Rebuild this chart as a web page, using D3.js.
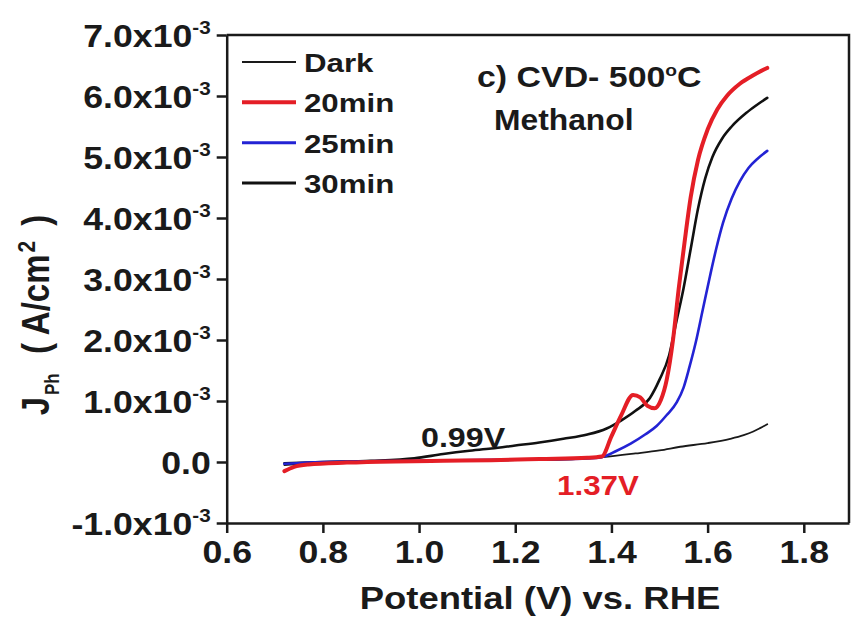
<!DOCTYPE html>
<html>
<head>
<meta charset="utf-8">
<script src="https://cdn.jsdelivr.net/npm/d3@7"></script>
<style>
  html, body { margin: 0; padding: 0; background: #fff; }
  svg { display: block; }
  text { font-family: "Liberation Sans", Arial, sans-serif; font-weight: bold; fill: #1a1a1a; }
</style>
</head>
<body>
<svg id="chart" width="852" height="618"></svg>
<script>
// ---- data (current density in units of 10^-3 A/cm^2) ----
const xTicks = [0.6, 0.8, 1.0, 1.2, 1.4, 1.6, 1.8];
const xTickLabels = ["0.6", "0.8", "1.0", "1.2", "1.4", "1.6", "1.8"];
const yTicks = [-1, 0, 1, 2, 3, 4, 5, 6, 7];
const yTickLabels = ["-1.0x10", "0.0", "1.0x10", "2.0x10", "3.0x10", "4.0x10", "5.0x10", "6.0x10", "7.0x10"];
const yTickExp = ["-3", "", "-3", "-3", "-3", "-3", "-3", "-3", "-3"];

const seriesNames = ["Dark", "20min", "25min", "30min"];

const darkV = [0.72, 0.76, 0.85, 1.0, 1.2, 1.3, 1.382, 1.45, 1.5, 1.543, 1.6, 1.647, 1.675, 1.695, 1.71, 1.724];
const darkJ = [-0.05, -0.03, -0.01, 0.01, 0.03, 0.04, 0.08, 0.14, 0.19, 0.25, 0.31, 0.38, 0.44, 0.50, 0.56, 0.62];

const min20V = [0.72, 0.74, 0.77, 0.85, 0.95, 1.05, 1.15, 1.25, 1.35, 1.38, 1.40, 1.42, 1.445, 1.46, 1.475, 1.49, 1.503, 1.515, 1.528, 1.54, 1.552, 1.565, 1.58, 1.60, 1.62, 1.64, 1.667, 1.695, 1.724];
const min20J = [-0.15, -0.08, -0.04, -0.01, 0.01, 0.02, 0.03, 0.05, 0.07, 0.09, 0.42, 0.76, 1.10, 1.06, 0.92, 0.88, 1.02, 1.35, 2.00, 2.85, 3.60, 4.35, 4.95, 5.45, 5.78, 6.00, 6.20, 6.34, 6.46];

const min25V = [0.72, 0.8, 1.0, 1.2, 1.35, 1.38, 1.41, 1.44, 1.47, 1.494, 1.515, 1.536, 1.55, 1.562, 1.575, 1.59, 1.605, 1.618, 1.632, 1.65, 1.667, 1.685, 1.705, 1.724];
const min25J = [-0.03, 0.0, 0.02, 0.04, 0.06, 0.08, 0.18, 0.30, 0.45, 0.59, 0.77, 0.98, 1.22, 1.55, 1.95, 2.50, 3.05, 3.50, 3.92, 4.32, 4.60, 4.82, 4.98, 5.10];

const min30V = [0.72, 0.8, 0.9, 0.99, 1.05, 1.1, 1.15, 1.2, 1.25, 1.3, 1.35, 1.39, 1.42, 1.45, 1.48, 1.50, 1.52, 1.535, 1.55, 1.565, 1.58, 1.595, 1.61, 1.63, 1.65, 1.68, 1.70, 1.724];
const min30J = [-0.02, 0.0, 0.02, 0.06, 0.13, 0.18, 0.22, 0.27, 0.32, 0.38, 0.45, 0.55, 0.68, 0.84, 1.05, 1.35, 1.75, 2.30, 2.85, 3.50, 4.15, 4.65, 5.00, 5.30, 5.50, 5.72, 5.84, 5.97];

// ---- layout ----
const svg = d3.select("#chart");
const SX = 1.15; // horizontal text stretch of the original figure
const x = d3.scaleLinear().domain([0.6, 1.894]).range([226.7, 849]);
const y = d3.scaleLinear().domain([-1, 7]).range([523, 35]);

function placeText(sel, px, py, sx) {
  return sel.attr("transform", `translate(${px},${py}) scale(${sx},1)`).attr("x", 0).attr("y", 0);
}

// frame (top & right)
svg.append("path")
  .attr("d", `M${x.range()[0]},${y(7)}H${x.range()[1]}V${y(-1)}`)
  .attr("fill", "none").attr("stroke", "#1a1a1a").attr("stroke-width", 2.5);

// x axis
const gx = svg.append("g").attr("transform", `translate(0,${y(-1)})`)
  .call(d3.axisBottom(x).tickValues(xTicks).tickSize(10).tickSizeOuter(0).tickFormat(""));
gx.select(".domain").attr("stroke", "#1a1a1a").attr("stroke-width", 2.5);
gx.selectAll(".tick line").attr("stroke", "#1a1a1a").attr("stroke-width", 2.5);
gx.selectAll(".tick").each(function(d, i) {
  const t = d3.select(this).append("text")
    .attr("text-anchor", "middle").style("font-size", "31px").text(xTickLabels[i]);
  placeText(t, 0, 40, SX);
});

// y axis
const gy = svg.append("g").attr("transform", `translate(${x.range()[0]},0)`)
  .call(d3.axisLeft(y).tickValues(yTicks).tickSize(10).tickSizeOuter(0).tickFormat(""));
gy.select(".domain").attr("stroke", "#1a1a1a").attr("stroke-width", 2.5);
gy.selectAll(".tick line").attr("stroke", "#1a1a1a").attr("stroke-width", 2.5);
gy.selectAll(".tick").each(function(d, i) {
  const t = d3.select(this).append("text").attr("text-anchor", "end").style("font-size", "31px");
  t.append("tspan").text(yTickLabels[i]);
  if (yTickExp[i]) t.append("tspan").attr("dy", -13).style("font-size", "18px").text(yTickExp[i]);
  placeText(t, -16, 11, SX);
});

// axis titles
placeText(svg.append("text").attr("text-anchor", "middle").style("font-size", "32px")
  .text("Potential (V) vs. RHE"), 540, 609, 1.14);

const yt = svg.append("text").attr("text-anchor", "middle").style("font-size", "33px")
  .attr("transform", `translate(49,315) scale(${SX},1) rotate(-90)`);
yt.append("tspan").text("J");
yt.append("tspan").attr("dy", 9).attr("dx", 2).style("font-size", "17px").text("Ph");
yt.append("tspan").attr("dy", -9).attr("dx", 10).text(" ( A/cm");
yt.append("tspan").attr("dy", -12).attr("dx", 2).style("font-size", "21px").text("2");
yt.append("tspan").attr("dy", 12).attr("dx", 6).text(" )");

// curves
const line = d3.line().x(d => x(d[0])).y(d => y(d[1])).curve(d3.curveMonotoneX);
const zip = (a, b) => a.map((v, i) => [v, b[i]]);
const series = [
  { name: "Dark", data: zip(darkV, darkJ), color: "#1a1a1a", width: 1.8 },
  { name: "30min", data: zip(min30V, min30J), color: "#111111", width: 2.6 },
  { name: "25min", data: zip(min25V, min25J), color: "#2323d4", width: 2.6 },
  { name: "20min", data: zip(min20V, min20J), color: "#e41e26", width: 4 }
];
svg.append("g").selectAll("path").data(series).join("path")
  .attr("d", s => line(s.data)).attr("fill", "none")
  .attr("stroke", s => s.color).attr("stroke-width", s => s.width)
  .attr("stroke-linejoin", "round").attr("stroke-linecap", "round");

// legend
const legendStyle = {
  "Dark": { color: "#1a1a1a", width: 1.8 },
  "20min": { color: "#e41e26", width: 4 },
  "25min": { color: "#2323d4", width: 3 },
  "30min": { color: "#111111", width: 2.8 }
};
const legendY = d3.scalePoint().domain(seriesNames).range([62, 183]);
const lg = svg.append("g");
seriesNames.forEach(n => {
  lg.append("line").attr("x1", 242).attr("x2", 296).attr("y1", legendY(n)).attr("y2", legendY(n))
    .attr("stroke", legendStyle[n].color).attr("stroke-width", legendStyle[n].width);
  placeText(lg.append("text").style("font-size", "25px").text(n), 304, legendY(n) + 10, 1.25);
});

// annotations
const ann = svg.append("text").style("font-size", "30px");
ann.append("tspan").text("c) CVD- 500");
ann.append("tspan").attr("dy", -11).style("font-size", "17px").text("o");
ann.append("tspan").attr("dy", 11).text("C");
placeText(ann, 477, 87, 1.13);
placeText(svg.append("text").style("font-size", "30px").text("Methanol"), 494, 130, 1.06);
placeText(svg.append("text").style("font-size", "28px").text("0.99V"), 421, 447, 1.15);
placeText(svg.append("text").style("font-size", "28px").style("fill", "#e41e26").text("1.37V"), 557, 495, 1.12);
</script>
</body>
</html>
